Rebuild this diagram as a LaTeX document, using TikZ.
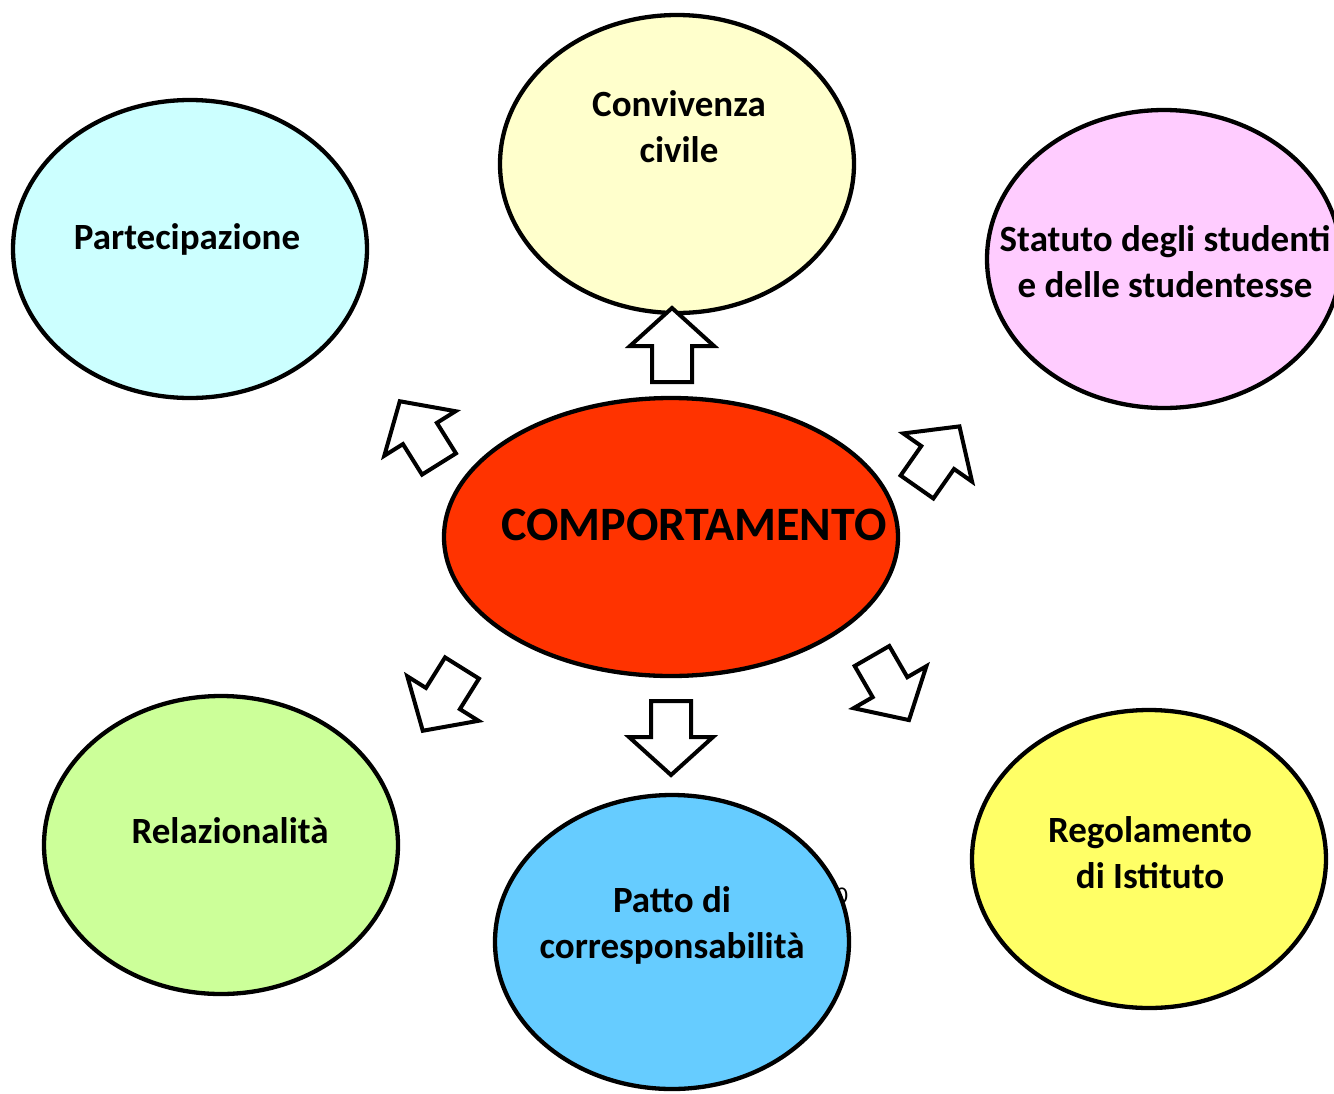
\documentclass[tikz,border=0pt]{standalone}
\usepackage{fontspec}
\setmainfont{Carlito}
\usetikzlibrary{shapes.geometric}
\definecolor{cPart}{HTML}{CCFFFF}
\definecolor{cConv}{HTML}{FFFFCC}
\definecolor{cStat}{HTML}{FFCCFF}
\definecolor{cComp}{HTML}{FF3300}
\definecolor{cRel}{HTML}{CCFF99}
\definecolor{cPatto}{HTML}{66CCFF}
\definecolor{cReg}{HTML}{FFFF66}
\newcommand\blockarrow[2]{%
  \begin{scope}[shift={#1}, rotate=#2]
    \draw[barrow] (0,-20) -- (36,-20) -- (36,-42) -- (74,0) -- (36,42) -- (36,20) -- (0,20) -- cycle;
  \end{scope}}
\begin{document}
\begin{tikzpicture}[x=1pt,y=-1pt,
  bub/.style={ellipse, draw=black, line width=4.3pt, minimum width=354pt, minimum height=298pt, inner sep=0pt},
  lbl/.style={font=\bfseries\fontsize{37}{46}\selectfont, align=center, text=black, inner sep=0pt},
  barrow/.style={draw=black, fill=white, line width=4pt, line join=miter}]
\useasboundingbox (0,0) rectangle (1334,1093);
\clip (0,0) rectangle (1334,1093);
\fill[white] (0,0) rectangle (1334,1093);

% stray digit partly hidden behind an ellipse
\node[font=\fontsize{24}{28}\selectfont, inner sep=0pt] (stray) at (842,896) {0};

\node[bub, fill=cPart] (part) at (190,249) {};
\node[bub, fill=cConv] (conv) at (677,164) {};
\node[bub, fill=cStat] (stat) at (1164,259) {};
\node[bub, fill=cRel] (rel) at (221,845) {};
\node[bub, fill=cPatto, minimum height=294pt] (patto) at (672,942) {};
\node[bub, fill=cReg] (reg) at (1149,859) {};
\node[bub, fill=cComp, minimum width=454pt, minimum height=278pt] (comp) at (671,537) {};

\node[lbl] (tpart) at (187,239) {Partecipazione};
\node[lbl] (tconv) at (679,127) {Convivenza\\civile};
\node[lbl] (tstat) at (1165,262) {Statuto degli studenti\\e delle studentesse};
\node[lbl, font=\bfseries\fontsize{48}{56}\selectfont] (tcomp) at (694,525) {COMPORTAMENTO};
\node[lbl] (trel) at (230,831) {Relazionalità};
\node[lbl] (tpatto) at (672,925) {Patto di\\corresponsabilità};
\node[lbl] (treg) at (1150,853) {Regolamento\\di Istituto};

\coordinate (a1) at (672,382);
\coordinate (a2) at (671,701);
\coordinate (a3) at (439,464);
\coordinate (a4) at (917,487);
\coordinate (a5) at (462,668);
\coordinate (a6) at (872,656);
\blockarrow{(a1)}{90}
\blockarrow{(a2)}{-90}
\blockarrow{(a3)}{122}
\blockarrow{(a4)}{55}
\blockarrow{(a5)}{-122}
\blockarrow{(a6)}{-60}
\end{tikzpicture}
\end{document}
